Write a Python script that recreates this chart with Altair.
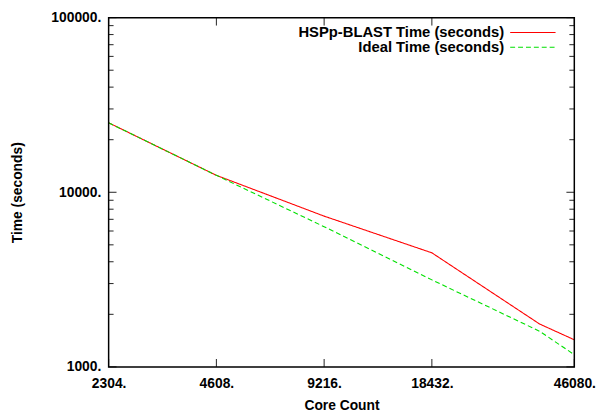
import altair as alt
import pandas as pd

# ---- data ----
cores = [2304, 4608, 9216, 18432, 36864, 46080]
hspp_time = [25000, 12500, 7300, 4500, 1760, 1430]
ideal_time = [25000, 12500, 6350, 3150, 1600, 1175]
series_names = ["HSPp-BLAST Time (seconds)", "Ideal Time (seconds)"]
series_colors = ["#ff0000", "#00e000"]
x_tick_values = [2304, 4608, 9216, 18432, 46080]
y_major = [1000, 10000, 100000]
y_minor = [2000, 3000, 4000, 5000, 6000, 7000, 8000, 9000,
           20000, 30000, 40000, 50000, 60000, 70000, 80000, 90000]

W, H = 472, 354
FONT = "Liberation Sans"

df = pd.concat([
    pd.DataFrame({"cores": cores, "time": hspp_time, "series": series_names[0]}),
    pd.DataFrame({"cores": cores, "time": ideal_time, "series": series_names[1]}),
])

xs = alt.Scale(type="log", domain=[2304, 46080], nice=False)
ys = alt.Scale(type="log", domain=[1000, 100000], nice=False)

x_axis = alt.Axis(values=x_tick_values, labelExpr="datum.value + '.'",
                  title="Core Count", labelPadding=10, labelFlush=False,
                  labelOverlap=False, labelBound=False,
                  titleX=W / 2, titleY=39, titleBaseline="middle",
                  titleAlign="center")
y_axis = alt.Axis(values=y_major, labelExpr="datum.value + '.'",
                  title="Time (seconds)", labelPadding=8, labelFlush=False,
                  labelOverlap=False, labelBound=False,
                  titleX=-92, titleY=H / 2, titleAngle=-90,
                  titleBaseline="middle", titleAlign="center")

lines = alt.Chart(df).mark_line(strokeWidth=1.1, clip=True).encode(
    x=alt.X("cores:Q", scale=xs, axis=x_axis),
    y=alt.Y("time:Q", scale=ys, axis=y_axis),
    color=alt.Color("series:N", scale=alt.Scale(domain=series_names, range=series_colors), legend=None),
    strokeDash=alt.StrokeDash("series:N", scale=alt.Scale(domain=series_names, range=[[1, 0], [5, 3]]), legend=None),
)

xt = pd.DataFrame({"v": x_tick_values})
ymaj = pd.DataFrame({"v": y_major})
ymin = pd.DataFrame({"v": y_minor})

def xtick(y1, y2):
    return alt.Chart(xt).mark_rule(color="#222222", strokeWidth=1).encode(
        x=alt.X("v:Q", scale=xs, axis=x_axis), y=alt.value(y1), y2=alt.value(y2))

def ytick(data, x1, x2):
    return alt.Chart(data).mark_rule(color="#222222", strokeWidth=1).encode(
        y=alt.Y("v:Q", scale=ys, axis=y_axis), x=alt.value(x1), x2=alt.value(x2))

ticks = [
    xtick(H, H - 8), xtick(0, 8),
    ytick(ymaj, 0, 8), ytick(ymaj, W, W - 8),
    ytick(ymin, 0, 5), ytick(ymin, W, W - 5),
]

frame = alt.Chart(pd.DataFrame({"series": [series_names[0]]})).mark_rect(
    fill=None, fillOpacity=0, stroke="black", strokeWidth=1.5).encode(
    x=alt.value(0), x2=alt.value(W), y=alt.value(0), y2=alt.value(H))

legend_layers = []
for i, name in enumerate(series_names):
    yy = 15 + 15 * i
    legend_layers.append(
        alt.Chart(pd.DataFrame({"series": [name]})).mark_text(
            align="right", baseline="middle", font=FONT, fontSize=15,
            fontWeight="bold", color="black").encode(
            text="series:N", x=alt.value(401), y=alt.value(yy)))
    legend_layers.append(
        alt.Chart(pd.DataFrame({"series": [name]})).mark_rule(
            color=series_colors[i], strokeWidth=1.1,
            strokeDash=[1, 0] if i == 0 else [5, 3]).encode(
            x=alt.value(407), x2=alt.value(453), y=alt.value(yy)))

chart = alt.layer(lines, *ticks, frame, *legend_layers).properties(
    width=W, height=H,
    background="white",
    autosize=alt.AutoSizeParams(type="none"),
    padding={"left": 102, "top": 7, "right": 23, "bottom": 47},
).configure_view(stroke=None).configure_axis(
    domain=False, ticks=False, tickSize=0, grid=False,
    labelFont=FONT, labelFontSize=14, labelFontWeight="bold", labelColor="black",
    titleFont=FONT, titleFontSize=14, titleFontWeight="bold", titleColor="black",
)

chart.save("out.html", embed_options={"renderer": "svg", "actions": False})
